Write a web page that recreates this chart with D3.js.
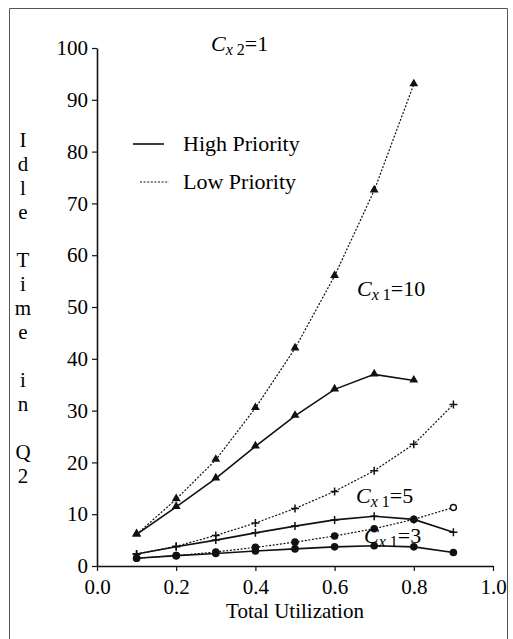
<!DOCTYPE html>
<html>
<head>
<meta charset="utf-8">
<script src="https://cdn.jsdelivr.net/npm/d3@7"></script>
<style>
  html, body { margin: 0; padding: 0; background: #fff; }
  svg { display: block; }
  svg text { font-family: "Liberation Serif", "Times New Roman", serif; fill: #000; }
</style>
</head>
<body>
<svg id="chart" width="513" height="639"></svg>
<script>
// Total utilization (x) values
const utilization = [0.1, 0.2, 0.3, 0.4, 0.5, 0.6, 0.7, 0.8, 0.9];

// Idle time in Q2 for each C_x1 case, high and low priority
const cx10High = [6.1, 11.4, 16.9, 23.1, 29.0, 34.1, 37.0, 35.8];
const cx10Low  = [6.1, 12.9, 20.5, 30.5, 42.0, 56.0, 72.5, 93.0];
const cx5High  = [2.3, 3.7, 5.0, 6.4, 7.7, 8.9, 9.6, 9.0, 6.5];
const cx5Low   = [2.3, 3.8, 5.9, 8.3, 11.1, 14.4, 18.4, 23.5, 31.2];
const cx3High  = [1.5, 2.0, 2.4, 2.9, 3.3, 3.7, 3.9, 3.7, 2.6];
const cx3Low   = [1.5, 2.0, 2.7, 3.6, 4.6, 5.8, 7.2, 9.0, 11.3];

const xTicks = [0, 0.2, 0.4, 0.6, 0.8, 1.0];
const yTicks = [0, 10, 20, 30, 40, 50, 60, 70, 80, 90, 100];

const series = [
  { values: cx10Low,  priority: "low",  marker: "triangle", open: [] },
  { values: cx10High, priority: "high", marker: "triangle", open: [] },
  { values: cx5Low,   priority: "low",  marker: "plus",     open: [] },
  { values: cx5High,  priority: "high", marker: "plus",     open: [] },
  { values: cx3Low,   priority: "low",  marker: "circle",   open: [0, 8] },
  { values: cx3High,  priority: "high", marker: "circle",   open: [] }
];

const legendItems = [
  { label: "High Priority", priority: "high" },
  { label: "Low Priority",  priority: "low" }
];

const curveLabels = [
  { sub: "x 2", value: "1",  x: 211, y: 51 },
  { sub: "x 1", value: "10", x: 357, y: 296 },
  { sub: "x 1", value: "5",  x: 356, y: 503 },
  { sub: "x 1", value: "3",  x: 364, y: 543 }
];

const yTitleWords = ["Idle", "Time", "in", "Q2"];

const svg = d3.select("#chart");
const x = d3.scaleLinear().domain([0, 1]).range([97, 493]);
const y = d3.scaleLinear().domain([0, 100]).range([566, 48]);

// Outer frame
svg.append("path")
  .attr("d", "M9.5,645 V8.5 H507.5 V645")
  .attr("fill", "none").attr("stroke", "#555").attr("stroke-width", 1);

// Axes
const xAxis = svg.append("g")
  .attr("transform", `translate(0,${y(0)})`)
  .call(d3.axisBottom(x).tickValues(xTicks).tickFormat(d3.format(".1f"))
        .tickSize(5).tickSizeOuter(0).tickPadding(8));
const yAxis = svg.append("g")
  .attr("transform", `translate(${x(0)},0)`)
  .call(d3.axisLeft(y).tickValues(yTicks).tickFormat(d3.format("d"))
        .tickSize(5).tickSizeOuter(0).tickPadding(4));

[xAxis, yAxis].forEach(g => {
  g.attr("font-family", null).attr("font-size", null);
  g.select(".domain").attr("stroke", "#111").attr("stroke-width", 1.6);
  g.selectAll(".tick line").attr("stroke", "#111").attr("stroke-width", 1.2);
  g.selectAll(".tick text")
    .attr("fill", "#000")
    .style("font-family", "Liberation Serif")
    .attr("font-size", 21);
});

// Axis titles
svg.append("text")
  .attr("x", (x(0) + x(1)) / 2).attr("y", 618)
  .attr("text-anchor", "middle")
  .attr("font-size", 21)
  .text("Total Utilization");

let ty = 140;
const yTitle = svg.append("g").attr("font-size", 21);
yTitleWords.forEach((word, wi) => {
  if (wi > 0) ty += 24;
  for (const ch of word) {
    yTitle.append("text")
      .attr("x", 23).attr("y", ty).attr("dy", "0.35em")
      .attr("text-anchor", "middle").text(ch);
    ty += 24;
  }
});

// Lines
const lineStyle = p => p === "high"
  ? { width: 1.6, dash: null }
  : { width: 1.2, dash: "2,1.6" };

const line = d3.line()
  .x((d, i) => x(utilization[i]))
  .y(d => y(d))
  .curve(d3.curveLinear);

series.forEach(s => {
  const st = lineStyle(s.priority);
  svg.append("path")
    .datum(s.values)
    .attr("d", line)
    .attr("fill", "none")
    .attr("stroke", "#111")
    .attr("stroke-width", st.width)
    .attr("stroke-dasharray", st.dash);
});

// Markers
const tri = d3.symbol().type(d3.symbolTriangle).size(34);
series.forEach(s => {
  const g = svg.append("g");
  s.values.forEach((v, i) => {
    const cx = x(utilization[i]), cy = y(v);
    const isOpen = s.open.includes(i);
    if (s.marker === "triangle") {
      g.append("path").attr("d", tri())
        .attr("transform", `translate(${cx},${cy - 0.5})`)
        .attr("fill", "#111");
    } else if (s.marker === "plus") {
      g.append("path")
        .attr("d", `M${cx - 4},${cy} H${cx + 4} M${cx},${cy - 4} V${cy + 4}`)
        .attr("stroke", "#111").attr("stroke-width", 1.5);
    } else {
      g.append("circle").attr("cx", cx).attr("cy", cy).attr("r", isOpen ? 3 : 3.8)
        .attr("fill", isOpen ? "#fff" : "#111")
        .attr("stroke", "#111").attr("stroke-width", isOpen ? 1.4 : 0);
    }
  });
});

// Legend
const legend = svg.append("g");
legendItems.forEach((item, i) => {
  const st = lineStyle(item.priority);
  const ly = 144 + i * 38;
  legend.append("line")
    .attr("x1", item.priority === "high" ? 133 : 140).attr("x2", item.priority === "high" ? 164 : 169)
    .attr("y1", ly).attr("y2", ly)
    .attr("stroke", "#111").attr("stroke-width", st.width)
    .attr("stroke-dasharray", st.dash);
  legend.append("text")
    .attr("x", 183).attr("y", ly).attr("dy", "0.33em")
    .attr("font-size", 22)
    .text(item.label);
});

// Curve annotations: C with subscript
curveLabels.forEach(c => {
  const t = svg.append("text")
    .attr("x", c.x).attr("y", c.y)
    .attr("font-size", 22);
  t.append("tspan").attr("font-style", "italic").text("C");
  t.append("tspan").attr("dy", 4).attr("font-size", 16)
    .attr("font-style", "italic").text(c.sub.slice(0, 1));
  t.append("tspan").attr("font-size", 16).text(c.sub.slice(1));
  t.append("tspan").attr("dy", -4).text("=" + c.value);
});
</script>
</body>
</html>
